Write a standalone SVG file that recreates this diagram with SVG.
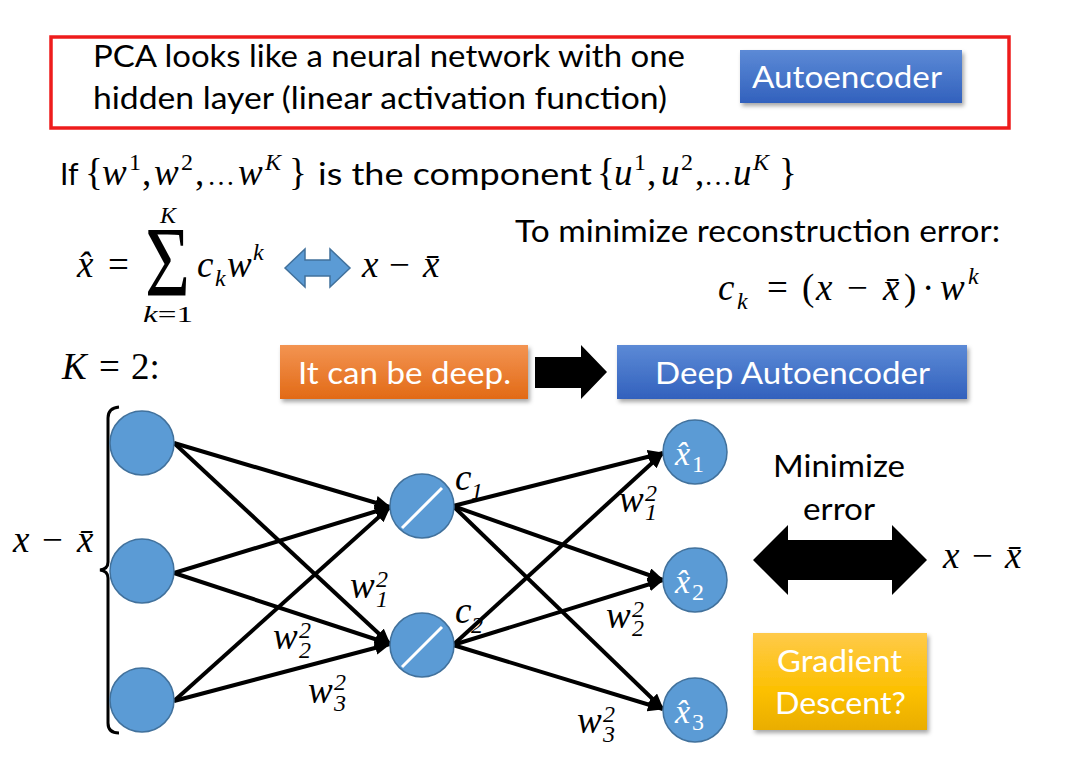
<svg xmlns="http://www.w3.org/2000/svg" width="1067" height="775" viewBox="0 0 1067 775">
  <style>
    .t { font-family: Lato, "Liberation Sans", sans-serif; font-size: 30px; fill: #000; }
    .w { fill: #fff; }
    .m { font-family: "Liberation Serif", "DejaVu Serif", serif; font-style: italic; font-size: 37px; fill: #000; }
    .mu { font-family: "Liberation Serif", "DejaVu Serif", serif; font-style: normal; font-size: 37px; fill: #000; }
    .up { font-style: normal; }
    .sup { font-size: 24px; }
    .lim { font-size: 24px; }
    .big { font-size: 100px; }
    .dots { font-size: 28px; }
    .node { fill: #5b9bd5; stroke: #41719c; stroke-width: 1.5; }
    .slash { stroke: #fff; stroke-width: 3; }
    .edge { stroke: #000; stroke-width: 4; fill: none; marker-end: url(#head); }
    .mc { fill: #fff; font-size: 34px; }
  </style>
  <defs>
    <linearGradient id="gBlue" x1="0" y1="0" x2="0" y2="1">
      <stop offset="0" stop-color="#5c8ad6"/>
      <stop offset="1" stop-color="#3261bd"/>
    </linearGradient>
    <linearGradient id="gOrange" x1="0" y1="0" x2="0" y2="1">
      <stop offset="0" stop-color="#f39452"/>
      <stop offset="1" stop-color="#e26a16"/>
    </linearGradient>
    <linearGradient id="gYellow" x1="0" y1="0" x2="0" y2="1">
      <stop offset="0" stop-color="#ffca4a"/>
      <stop offset="0.6" stop-color="#fcc000"/>
      <stop offset="1" stop-color="#e9ad00"/>
    </linearGradient>
    <filter id="shadow" x="-10%" y="-20%" width="125%" height="150%">
      <feDropShadow dx="2" dy="3" stdDeviation="2" flood-color="#000" flood-opacity="0.35"/>
    </filter>
    <marker id="head" viewBox="0 0 16 14" refX="15" refY="7" markerWidth="16" markerHeight="14" markerUnits="userSpaceOnUse" orient="auto">
      <path d="M0,0 L16,7 L0,14 Z" fill="#000"/>
    </marker>
  </defs>

  <rect width="1067" height="775" fill="#fff"/>

  <!-- header box -->
  <g id="header">
    <rect x="51" y="37" width="958" height="91" fill="none" stroke="#ee1c1c" stroke-width="3.5"/>
    <text class="t" x="93" y="67" textLength="592" lengthAdjust="spacingAndGlyphs">PCA looks like a neural network with one</text>
    <text class="t" x="93" y="109" textLength="574" lengthAdjust="spacingAndGlyphs">hidden layer (linear activation function)</text>
  </g>
  <g id="autoencoder">
    <rect x="740" y="50" width="222" height="53" fill="url(#gBlue)" filter="url(#shadow)"/>
    <text class="t w" x="752" y="88" textLength="190" lengthAdjust="spacingAndGlyphs">Autoencoder</text>
  </g>

  <!-- component statement -->
  <g id="components">
    <text class="t" x="60" y="185">If</text>
    <text class="mu" y="185"><tspan x="85">{</tspan><tspan class="m" x="102">w</tspan><tspan class="sup" x="129" y="170">1</tspan><tspan x="142" y="185">,</tspan><tspan class="m" x="154">w</tspan><tspan class="sup" x="181" y="170">2</tspan><tspan x="195" y="185">,</tspan><tspan class="dots" x="207">…</tspan><tspan class="m" x="238">w</tspan><tspan class="m sup" x="265" y="170">K</tspan><tspan x="289" y="185">}</tspan></text>
    <text class="t" x="318" y="185" textLength="274" lengthAdjust="spacingAndGlyphs">is the component</text>
    <text class="mu" y="185"><tspan x="597">{</tspan><tspan class="m" x="614">u</tspan><tspan class="sup" x="634" y="170">1</tspan><tspan x="647" y="185">,</tspan><tspan class="m" x="661">u</tspan><tspan class="sup" x="681" y="170">2</tspan><tspan x="695" y="185">,</tspan><tspan class="dots" x="704">…</tspan><tspan class="m" x="733">u</tspan><tspan class="m sup" x="753" y="170">K</tspan><tspan x="779" y="185">}</tspan></text>
  </g>

  <!-- reconstruction sum -->
  <g id="sum">
    <text class="m" x="77" y="277">x̂</text>
    <text class="mu" x="108" y="277">=</text>
    <text class="mu big" x="145" y="295" textLength="45" lengthAdjust="spacingAndGlyphs">Σ</text>
    <text class="m lim" x="160" y="223">K</text>
    <text class="m lim" x="143" y="322" textLength="50" lengthAdjust="spacingAndGlyphs">k<tspan class="up">=1</tspan></text>
    <text class="m" y="277"><tspan x="197">c</tspan><tspan class="sup" x="215" y="286">k</tspan><tspan x="227" y="277">w</tspan><tspan class="sup" x="253" y="260">k</tspan></text>
    <path d="M285,268 L305,249 L305,260 L330,260 L330,249 L350,268 L330,287 L330,276 L305,276 L305,287 Z" fill="#5b9bd5" stroke="#41719c" stroke-width="1.5"/>
    <text class="m" y="277"><tspan x="362">x</tspan><tspan class="up" x="389">−</tspan><tspan x="423">x̄</tspan></text>
  </g>

  <g id="minimize-text">
    <text class="t" x="515" y="242" textLength="485" lengthAdjust="spacingAndGlyphs">To minimize reconstruction error:</text>
    <text class="m" y="300"><tspan x="718">c</tspan><tspan class="sup" x="737" y="309">k</tspan><tspan class="up" x="767" y="300">=</tspan><tspan class="up" x="802">(</tspan><tspan x="816">x</tspan><tspan class="up" x="847">−</tspan><tspan x="883">x̄</tspan><tspan class="up" x="904">)</tspan><tspan class="up" x="922">·</tspan><tspan x="940">w</tspan><tspan class="sup" x="968" y="284">k</tspan></text>
  </g>

  <text class="m" y="379"><tspan x="62">K</tspan><tspan class="up" x="99">=</tspan><tspan class="up" x="131">2:</tspan></text>

  <!-- deep row -->
  <g id="deep">
    <rect x="280" y="345" width="248" height="54" fill="url(#gOrange)" filter="url(#shadow)"/>
    <text class="t w" x="298" y="384" textLength="213" lengthAdjust="spacingAndGlyphs">It can be deep.</text>
  </g>
  <g id="deep-arrow">
    <path d="M535,357 L581,357 L581,345 L607,372 L581,399 L581,388 L535,388 Z" fill="#000"/>
  </g>
  <g id="deep-autoencoder">
    <rect x="617" y="345" width="350" height="54" fill="url(#gBlue)" filter="url(#shadow)"/>
    <text class="t w" x="655" y="384" textLength="275" lengthAdjust="spacingAndGlyphs">Deep Autoencoder</text>
  </g>

  <!-- input brace -->
  <g id="input-brace">
    <path d="M119,407 Q108,408 108,418 L108,562 Q108,569 100,570 Q108,571 108,578 L108,723 Q108,733 119,733" fill="none" stroke="#000" stroke-width="3"/>
    <text class="m" y="552"><tspan x="13">x</tspan><tspan class="up" x="42">−</tspan><tspan x="77">x̄</tspan></text>
  </g>

  <!-- connectors -->
  <g id="edges">
    <line class="edge" x1="174" y1="443" x2="390" y2="507"/>
    <line class="edge" x1="174" y1="443" x2="390" y2="644"/>
    <line class="edge" x1="174" y1="573" x2="390" y2="507"/>
    <line class="edge" x1="174" y1="573" x2="390" y2="644"/>
    <line class="edge" x1="174" y1="701" x2="390" y2="507"/>
    <line class="edge" x1="174" y1="701" x2="390" y2="644"/>
    <line class="edge" x1="453" y1="506" x2="663" y2="453"/>
    <line class="edge" x1="453" y1="506" x2="663" y2="580"/>
    <line class="edge" x1="453" y1="506" x2="663" y2="709"/>
    <line class="edge" x1="453" y1="645" x2="663" y2="453"/>
    <line class="edge" x1="453" y1="645" x2="663" y2="580"/>
    <line class="edge" x1="453" y1="645" x2="663" y2="709"/>
  </g>

  <!-- weight labels -->
  <g id="weights">
    <text class="m" y="598"><tspan x="350">w</tspan><tspan class="sup" x="376" y="587">2</tspan><tspan class="sup" x="376" y="607">1</tspan></text>
    <text class="m" y="649"><tspan x="273">w</tspan><tspan class="sup" x="299" y="638">2</tspan><tspan class="sup" x="299" y="658">2</tspan></text>
    <text class="m" y="703"><tspan x="308">w</tspan><tspan class="sup" x="334" y="690">2</tspan><tspan class="sup" x="334" y="711">3</tspan></text>
    <text class="m" y="512"><tspan x="619">w</tspan><tspan class="sup" x="645" y="501">2</tspan><tspan class="sup" x="645" y="520">1</tspan></text>
    <text class="m" y="628"><tspan x="606">w</tspan><tspan class="sup" x="632" y="617">2</tspan><tspan class="sup" x="632" y="636">2</tspan></text>
    <text class="m" y="733"><tspan x="577">w</tspan><tspan class="sup" x="603" y="722">2</tspan><tspan class="sup" x="603" y="742">3</tspan></text>
  </g>

  <!-- input nodes -->
  <g id="in1"><circle class="node" cx="142" cy="443" r="32"/></g>
  <g id="in2"><circle class="node" cx="142" cy="571" r="32"/></g>
  <g id="in3"><circle class="node" cx="142" cy="700" r="32"/></g>

  <!-- hidden (linear) nodes -->
  <g id="h1">
    <circle class="node" cx="422" cy="506" r="32"/>
    <line class="slash" x1="402" y1="528" x2="442" y2="488"/>
    <text class="m" y="490"><tspan x="455">c</tspan><tspan class="sup" x="471" y="499">1</tspan></text>
  </g>
  <g id="h2">
    <circle class="node" cx="422" cy="645" r="32"/>
    <line class="slash" x1="402" y1="667" x2="442" y2="627"/>
    <text class="m" y="623"><tspan x="455">c</tspan><tspan class="sup" x="471" y="633">2</tspan></text>
  </g>

  <!-- output nodes -->
  <g id="out1">
    <circle class="node" cx="695" cy="452" r="32"/>
    <text class="m mc" y="465"><tspan x="675">x̂</tspan><tspan class="up sup" x="692" y="472">1</tspan></text>
  </g>
  <g id="out2">
    <circle class="node" cx="695" cy="580" r="32"/>
    <text class="m mc" y="593"><tspan x="675">x̂</tspan><tspan class="up sup" x="692" y="600">2</tspan></text>
  </g>
  <g id="out3">
    <circle class="node" cx="695" cy="710" r="32"/>
    <text class="m mc" y="723"><tspan x="675">x̂</tspan><tspan class="up sup" x="692" y="730">3</tspan></text>
  </g>

  <!-- error comparison -->
  <g id="minimize">
    <text class="t" x="773" y="477" textLength="132" lengthAdjust="spacingAndGlyphs">Minimize</text>
    <text class="t" x="803" y="520" textLength="72" lengthAdjust="spacingAndGlyphs">error</text>
    <path d="M753,560 L788,525 L788,540 L892,540 L892,525 L927,560 L892,595 L892,580 L788,580 L788,595 Z" fill="#000"/>
    <text class="m" y="568"><tspan x="943">x</tspan><tspan class="up" x="972">−</tspan><tspan x="1005">x̄</tspan></text>
  </g>

  <g id="gradient-descent">
    <rect x="753" y="633" width="174" height="97" fill="url(#gYellow)" filter="url(#shadow)"/>
    <text class="t w" x="777" y="672" textLength="125" lengthAdjust="spacingAndGlyphs">Gradient</text>
    <text class="t w" x="775" y="714" textLength="131" lengthAdjust="spacingAndGlyphs">Descent?</text>
  </g>
</svg>
